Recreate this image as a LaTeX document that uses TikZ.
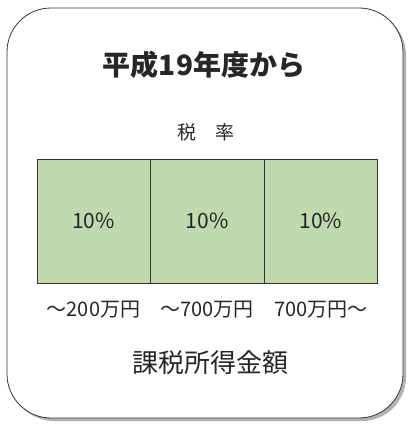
\documentclass[tikz,border=0pt]{standalone}
\usepackage{fontspec}
\setmainfont{Noto Sans CJK JP}
\usetikzlibrary{positioning,shadows}
\definecolor{ratefill}{RGB}{192,217,174}

\begin{document}
\begin{tikzpicture}[x=1pt,y=-1pt,
    rate/.style={draw=black!80, fill=ratefill, minimum width=113.3pt, minimum height=124pt, inner sep=0pt, font=\fontsize{21}{21}\selectfont, text=black!85},
    band/.style={font=\fontsize{20}{20}\selectfont, text=black!85}]
  \useasboundingbox (0,0) rectangle (407,425);
  \draw[rounded corners=44pt, line width=0.8pt, black!80, fill=white, drop shadow={shadow xshift=3pt, shadow yshift=-3pt, fill=black!30, opacity=1}] (7,8) rectangle (403,418);
  \node[font=\fontsize{28}{28}\selectfont\bfseries, text=black!85] (title) at (204,65) {平成19年度から};
  \node[font=\fontsize{19}{19}\selectfont, text=black!85] (taxrate) at (206,132) {税　率};
  % rate boxes
  \node[rate] (r1) at (93.5,221) {10\%};
  \node[rate, right=0pt of r1] (r2) {10\%};
  \node[rate, right=0pt of r2] (r3) {10\%};
  \node[band, below=14pt of r1] (b1) {～200万円};
  \node[band, below=14pt of r2] (b2) {～700万円};
  \node[band, below=14pt of r3] (b3) {700万円～};
  \node[font=\fontsize{26}{26}\selectfont, text=black!85] (income) at (210,363) {課税所得金額};
\end{tikzpicture}
\end{document}
